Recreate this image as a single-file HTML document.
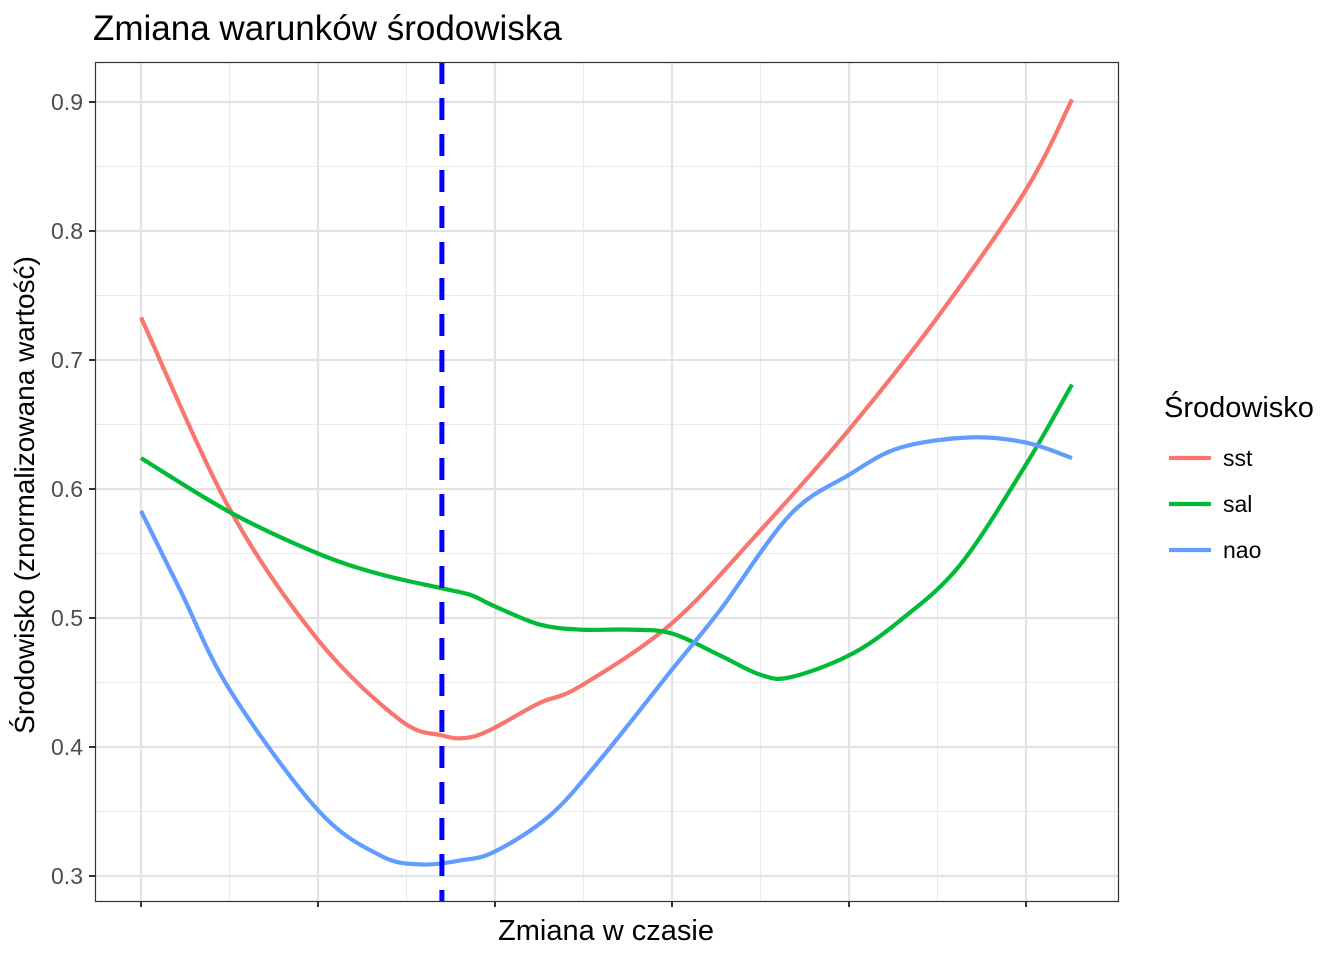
<!DOCTYPE html>
<html><head><meta charset="utf-8"><style>
body{margin:0;background:#fff;font-family:"Liberation Sans",Arial,sans-serif}
</style></head><body>
<svg id="chart" width="1344" height="960" xmlns="http://www.w3.org/2000/svg" font-family="Liberation Sans, Arial, sans-serif">
<text x="93" y="40" font-size="35" fill="#000">Zmiana warunków środowiska</text>
<g id="grid"></g>
<g id="marks"></g>
<rect x="95.5" y="62.5" width="1023" height="839" fill="none" stroke="#333" stroke-width="1.2"/>
<g id="axes"></g>
<text x="606" y="940" font-size="29" text-anchor="middle">Zmiana w czasie</text>
<text transform="translate(34,495) rotate(-90)" font-size="28" text-anchor="middle">Środowisko (znormalizowana wartość)</text>
<g id="legend">
<text x="1164" y="417" font-size="29">Środowisko</text>
</g>
</svg>
<script>
const yTicks=[0.3,0.4,0.5,0.6,0.7,0.8,0.9];
const xTicks=[0,1,2,3,4,5];
const seriesNames=["sst","sal","nao"];
const seriesColors=["#F8766D","#00BA38","#619CFF"];
const vlineX=1.70;
const sstX=[0,0.503,1,1.463,1.70,1.83,1.97,2.25,2.48,3,3.50,4,4.51,5,5.26];
const sstY=[0.733,0.584,0.483,0.421,0.409,0.407,0.413,0.434,0.447,0.496,0.568,0.646,0.735,0.832,0.902];
const salX=[0,0.503,1,1.350,1.70,1.859,2,2.25,2.48,2.763,3,3.271,3.50,3.667,4,4.288,4.627,5,5.26];
const salY=[0.624,0.582,0.550,0.534,0.523,0.518,0.509,0.495,0.491,0.491,0.488,0.471,0.456,0.454,0.471,0.498,0.541,0.619,0.681];
const naoX=[0,0.220,0.503,1,1.350,1.576,1.802,2,2.311,2.593,3,3.271,3.667,4,4.288,4.684,5,5.26];
const naoY=[0.583,0.522,0.444,0.351,0.316,0.309,0.312,0.319,0.347,0.390,0.460,0.506,0.580,0.611,0.632,0.640,0.636,0.624];
const NS="http://www.w3.org/2000/svg";
const sx=v=>141+v*177, sy=v=>102+(0.9-v)*1290;
const PL=95,PR=1118,PT=62,PB=901;
function mk(t,a,p){const e=document.createElementNS(NS,t);for(const k in a)e.setAttribute(k,a[k]);p.appendChild(e);return e;}
const grid=document.getElementById('grid'),axes=document.getElementById('axes'),marks=document.getElementById('marks'),legend=document.getElementById('legend');
for(let i=0;i<yTicks.length-1;i++){const v=(yTicks[i]+yTicks[i+1])/2;
 const l=mk('line',{x1:PL,x2:PR,y1:sy(v),y2:sy(v),stroke:'#ebebeb','stroke-width':1.1},grid);
 }
for(let i=0;i<xTicks.length;i++){const v=xTicks[i]+0.5;if(sx(v)>PR)continue;
 const l=mk('line',{x1:sx(v),x2:sx(v),y1:PT,y2:PB,stroke:'#ebebeb','stroke-width':1.1},grid);
 }
yTicks.forEach(v=>{const l=mk('line',{x1:PL,x2:PR,y1:sy(v),y2:sy(v),stroke:'#e3e3e3','stroke-width':2.2},grid);
 
 const t=mk('line',{x1:89,x2:95,y1:sy(v),y2:sy(v),stroke:'#333','stroke-width':2},axes);
 
 const tx=mk('text',{x:83,y:sy(v)+8,'font-size':23,'text-anchor':'end',fill:'#4d4d4d'},axes);tx.textContent=v.toFixed(1);
 });
xTicks.forEach(v=>{const l=mk('line',{x1:sx(v),x2:sx(v),y1:PT,y2:PB,stroke:'#e3e3e3','stroke-width':2.2},grid);
 
 const t=mk('line',{x1:sx(v),x2:sx(v),y1:PB,y2:PB+6,stroke:'#333','stroke-width':2},axes);
 });
function path(xs,ys){const p=xs.map((x,i)=>[sx(x),sy(ys[i])]);let d=`M${p[0][0]},${p[0][1]}`;
 for(let i=0;i<p.length-1;i++){const p0=p[i-1]||p[i],p1=p[i],p2=p[i+1],p3=p[i+2]||p2;
  d+=` C${p1[0]+(p2[0]-p0[0])/6},${p1[1]+(p2[1]-p0[1])/6} ${p2[0]-(p3[0]-p1[0])/6},${p2[1]-(p3[1]-p1[1])/6} ${p2[0]},${p2[1]}`;}
 return d;}
const data=[[sstX,sstY],[salX,salY],[naoX,naoY]];
data.forEach((s,i)=>{const e=mk('path',{d:path(s[0],s[1]),fill:'none',stroke:seriesColors[i],'stroke-width':4.2},marks);
 
 const y=458+i*46;
 const ll=mk('line',{x1:1169,x2:1211,y1:y,y2:y,stroke:seriesColors[i],'stroke-width':4.2},legend);
 
 const lt=mk('text',{x:1223,y:y+8,'font-size':23},legend);lt.textContent=seriesNames[i];
 });
const vl=mk('line',{x1:sx(vlineX),x2:sx(vlineX),y1:PT,y2:PB,stroke:'#0000ff','stroke-width':5,'stroke-dasharray':'22,14'},marks);


</script>
</body></html>
